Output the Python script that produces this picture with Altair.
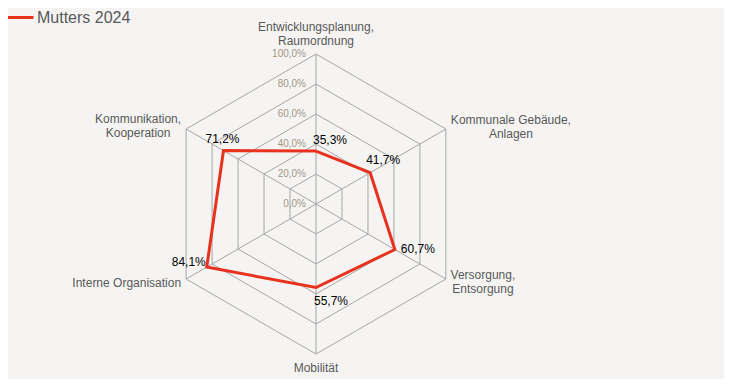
import math
import altair as alt
import pandas as pd

categories = [
    "Entwicklungsplanung,\nRaumordnung",
    "Kommunale Gebäude,\nAnlagen",
    "Versorgung,\nEntsorgung",
    "Mobilität",
    "Interne Organisation",
    "Kommunikation,\nKooperation",
]
values = [35.3, 41.7, 60.7, 55.7, 84.1, 71.2]
series_name = "Mutters 2024"
grid_levels = [0, 20, 40, 60, 80, 100]
tick_labels = ["0,0%", "20,0%", "40,0%", "60,0%", "80,0%", "100,0%"]

n = len(categories)
angles = [2 * math.pi * i / n for i in range(n)]

def xy(r, a):
    return r / 100.0 * math.sin(a), r / 100.0 * math.cos(a)

# grid hexagons
grid_rows = []
for lv in grid_levels[1:]:
    for k in range(n + 1):
        x, y = xy(lv, angles[k % n])
        grid_rows.append({"level": lv, "order": k, "x": x, "y": y})
grid_df = pd.DataFrame(grid_rows)

# spokes
spoke_df = pd.DataFrame(
    [{"x0": 0.0, "y0": 0.0, "x1": xy(100, a)[0], "y1": xy(100, a)[1]} for a in angles]
)

# series polygon
series_rows = []
for k in range(n + 1):
    i = k % n
    x, y = xy(values[i], angles[i])
    series_rows.append({"series": series_name, "order": k, "x": x, "y": y,
                        "label": f"{values[i]:.1f}%".replace(".", ","), "idx": i})
series_df = pd.DataFrame(series_rows)
points_df = series_df[series_df["order"] < n]

# tick labels along top spoke
tick_df = pd.DataFrame(
    [{"x": 0.0, "y": lv / 100.0, "t": t} for lv, t in zip(grid_levels, tick_labels)]
)

# category labels at vertices
cat_df = pd.DataFrame(
    [{"x": xy(100, a)[0], "y": xy(100, a)[1], "c": c, "idx": i}
     for i, (a, c) in enumerate(zip(angles, categories))]
)

TOP = 12
W, H = 716, 371 - TOP
S = 150.0
cx, cy = 308.0, 196.0 - TOP
xscale = alt.Scale(domain=[-cx / S, (W - cx) / S], nice=False, zero=False)
yscale = alt.Scale(domain=[-(H - cy) / S, cy / S], nice=False, zero=False)
X = lambda f: alt.X(f"{f}:Q", scale=xscale, axis=None)
Y = lambda f: alt.Y(f"{f}:Q", scale=yscale, axis=None)

FONT = "Liberation Sans"
GRID = "#a6a6a6"
RED = "#e8321e"

grid = alt.Chart(grid_df).mark_line(color=GRID, strokeWidth=1).encode(
    x=X("x"), y=Y("y"), detail="level:N", order="order:Q"
)
spokes = alt.Chart(spoke_df).mark_rule(color=GRID, strokeWidth=1).encode(
    x=X("x0"), y=Y("y0"), x2="x1:Q", y2="y1:Q"
)
ticks = alt.Chart(tick_df).mark_text(
    align="right", baseline="middle", dx=-10, font=FONT, fontSize=10, color="#a39584"
).encode(x=X("x"), y=Y("y"), text="t:N")

line = alt.Chart(series_df).mark_line(strokeWidth=3, strokeJoin="miter").encode(
    x=X("x"), y=Y("y"), order="order:Q",
    color=alt.Color("series:N", scale=alt.Scale(range=[RED]),
                    legend=alt.Legend(title=None, orient="none", legendX=-4, legendY=-TOP - 6,
                                      symbolType="stroke", symbolStrokeWidth=3,
                                      symbolSize=784, labelFontSize=16, labelFont=FONT,
                                      labelColor="#595959", labelOffset=2, padding=0)),
)

# value label offsets (dx, dy) per point
val_off = [(14, -11), (13, -13), (23, -1), (15, 13), (-18, -5), (-1, -12)]
val_layers = []
for i, (dx, dy) in enumerate(val_off):
    val_layers.append(
        alt.Chart(points_df).transform_filter(alt.datum.idx == i).mark_text(
            align="center", baseline="middle", dx=dx, dy=dy, font=FONT, fontSize=12,
            color="#000000"
        ).encode(x=X("x"), y=Y("y"), text="label:N")
    )

# category label placement per vertex
cat_style = [
    dict(align="center", baseline="middle", dx=0, dy=-27),
    dict(align="center", baseline="middle", dx=65, dy=-9),
    dict(align="center", baseline="middle", dx=37, dy=-4),
    dict(align="center", baseline="middle", dx=0, dy=14),
    dict(align="right", baseline="middle", dx=-5, dy=4),
    dict(align="center", baseline="middle", dx=-48, dy=-10),
]
cat_layers = []
for i, st in enumerate(cat_style):
    cat_layers.append(
        alt.Chart(cat_df).transform_filter(alt.datum.idx == i).mark_text(
            font=FONT, fontSize=12, color="#595959", lineBreak="\n", lineHeight=14, **st
        ).encode(x=X("x"), y=Y("y"), text="c:N")
    )

chart = alt.layer(grid, spokes, ticks, line, *val_layers, *cat_layers).properties(
    width=W, height=H, background="#f5f4f3",
    padding={"left": 0, "top": TOP, "right": 0, "bottom": 0},
    autosize=alt.AutoSizeParams(type="none"),
).configure_view(stroke=None)

chart.save("out.html", embed_options={"renderer": "svg", "actions": False})
